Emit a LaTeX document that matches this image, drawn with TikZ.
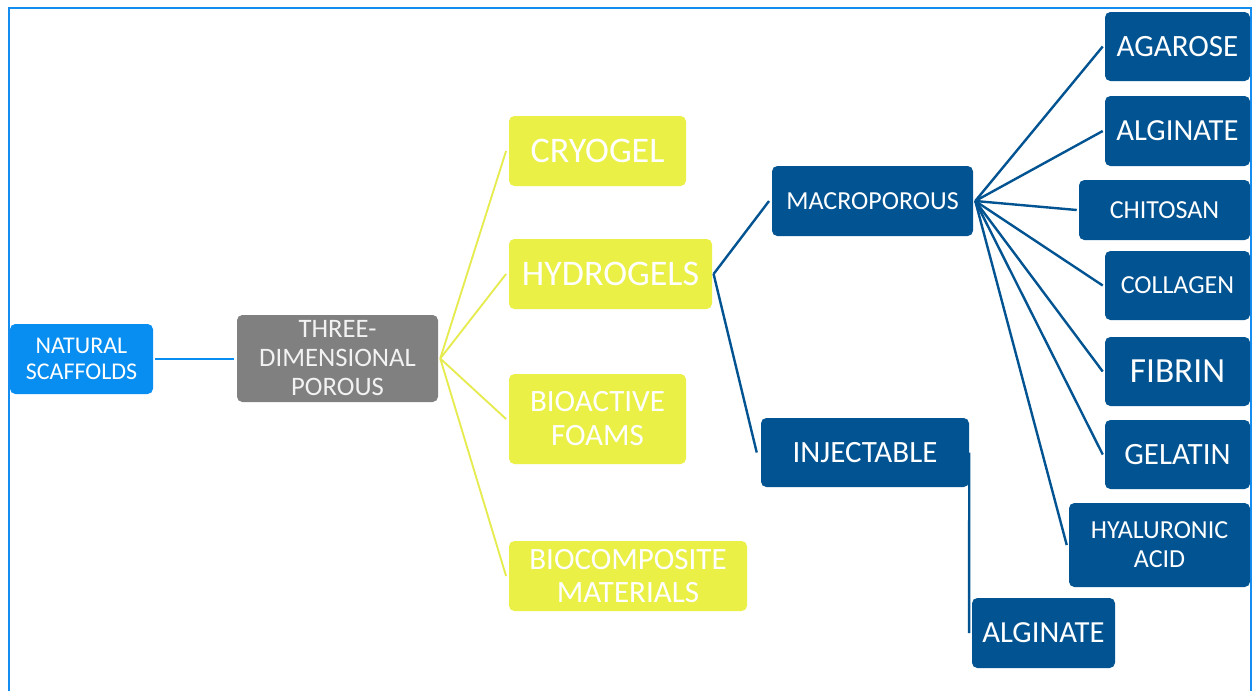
\documentclass[tikz,border=0pt]{standalone}
\usepackage{fontspec}
\setmainfont{Carlito}
\definecolor{natblue}{RGB}{8,142,240}
\definecolor{framblue}{RGB}{20,140,240}
\definecolor{grayb}{RGB}{128,128,128}
\definecolor{yelb}{RGB}{234,240,70}
\definecolor{yell}{RGB}{230,236,80}
\definecolor{darkb}{RGB}{2,83,145}
\newcommand{\bx}[7]{\node[#6, minimum width={(#4-#2)*0.75pt}, minimum height={(#5-#3)*0.75pt}] (#1) at ({(#2+#4)/2},{(#3+#5)/2}) {#7};}
\newcommand{\fs}[2]{\fontsize{#1}{#2}\selectfont}
\begin{document}
\begin{tikzpicture}[x=0.75pt,y=-0.75pt,
  box/.style={rounded corners=4pt, inner sep=0pt, align=center, text=white},
  natbox/.style={box, fill=natblue},
  graybox/.style={box, fill=grayb, text={rgb,255:red,242;green,242;blue,242}},
  yelbox/.style={box, fill=yelb},
  darkbox/.style={box, fill=darkb},
  frameline/.style={draw=framblue, line width=2pt},
  natline/.style={draw=natblue, line width=2.2pt},
  yelline/.style={draw=yell, line width=1.4pt},
  darkline/.style={draw=darkb, line width=1.8pt}]
\useasboundingbox (0,0) rectangle (1254,690);
\fill[white] (0,0) rectangle (1254,690);
\draw[frameline] (9,691) -- (9,8) -- (1251,8) -- (1251,691);
% nodes
\bx{nat}{10}{324}{153}{394}{natbox, font=\fs{18}{19.5}}{NATURAL\\SCAFFOLDS}
\bx{three}{237}{315}{438}{402}{graybox, font=\fs{20}{21.75}}{THREE-\\DIMENSIONAL\\POROUS}
\bx{cryo}{509}{116}{686}{186}{yelbox, font=\fs{27}{27}}{CRYOGEL}
\bx{hydro}{509}{239}{712}{309}{yelbox, font=\fs{27}{27}}{HYDROGELS}
\bx{foam}{509}{374}{686}{464}{yelbox, font=\fs{23.25}{25.5}}{BIOACTIVE\\FOAMS}
\bx{bioc}{509}{541}{747}{611}{yelbox, font=\fs{23.25}{25}}{BIOCOMPOSITE\\MATERIALS}
\bx{macro}{772}{166}{973}{236}{darkbox, font=\fs{19.5}{19.5}}{MACROPOROUS}
\bx{inj}{761}{418}{969}{487}{darkbox, font=\fs{23.25}{23.25}}{INJECTABLE}
\bx{agar}{1105}{12}{1250}{81}{darkbox, font=\fs{23.25}{23.25}}{AGAROSE}
\bx{alg}{1105}{96}{1250}{166}{darkbox, font=\fs{23}{23}}{ALGINATE}
\bx{chit}{1079}{180}{1250}{240}{darkbox, font=\fs{19.5}{19.5}}{CHITOSAN}
\bx{coll}{1105}{251}{1250}{320}{darkbox, font=\fs{19.5}{19.5}}{COLLAGEN}
\bx{fib}{1105}{337}{1250}{406}{darkbox, font=\fs{26.5}{26.5}}{FIBRIN}
\bx{gel}{1105}{420}{1250}{489}{darkbox, font=\fs{23.25}{23.25}}{GELATIN}
\bx{hya}{1069}{503}{1250}{587}{darkbox, font=\fs{19.5}{21.75}}{HYALURONIC\\ACID}
\bx{algb}{972}{598}{1115}{668}{darkbox, font=\fs{23}{23}}{ALGINATE}
% connectors
\draw[natline] ([xshift=1.5pt]nat.east) -- ([xshift=-2.2pt]nat.east -| three.west);
\foreach \t in {cryo,hydro,foam,bioc}
  \draw[yelline] ([xshift=1.5pt]three.east) -- ([xshift=-2pt]\t.west);
\draw[darkline] ([xshift=1pt]hydro.east) -- ([xshift=-2pt]macro.west);
\draw[darkline] ([xshift=1pt]hydro.east) -- ([xshift=-3pt]inj.west);
\foreach \t in {agar,alg,chit,coll,fib,gel,hya}
  \draw[darkline] ([xshift=1.5pt]macro.east) -- ([xshift=-1.5pt]\t.west);
\draw[darkline] (inj.east) -- ([xshift=-2pt]algb.west);
\end{tikzpicture}
\end{document}
